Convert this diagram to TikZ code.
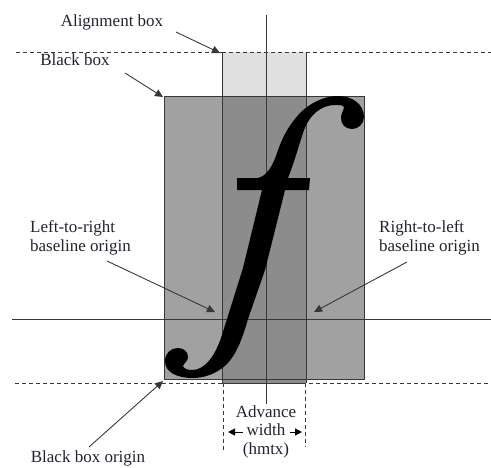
\documentclass[tikz,border=0pt]{standalone}
\usepackage{fontspec}
\setmainfont{Liberation Serif}
\usetikzlibrary{arrows.meta}
\definecolor{lightbox}{gray}{0.88}
\definecolor{darkbox}{gray}{0.63}
\definecolor{overlapbox}{gray}{0.55}
\definecolor{linegray}{gray}{0.22}
\definecolor{inkblue}{RGB}{35,35,45}
\tikzset{
  guide/.style={draw=linegray,line width=0.8pt},
  dashguide/.style={draw=linegray,line width=0.8pt,dash pattern=on 3.5pt off 3.5pt},
  pointer/.style={draw=linegray,line width=0.9pt,-{Triangle[length=8pt,width=7.5pt]}},
  short pointer/.style={draw=black,line width=1pt,-{Triangle[length=7pt,width=7pt]}},
  label/.style={inner sep=0pt,text=inkblue,font=\fontsize{17}{18.5}\selectfont,align=center},
  leftlabel/.style={label,align=left,anchor=west},
  rectbox/.style={inner sep=0pt,outer sep=0pt,anchor=north west}
}
\begin{document}
\begin{tikzpicture}[x=1pt,y=-1pt]
\useasboundingbox (0,0) rectangle (491,467);
% boxes
\node[rectbox,fill=lightbox,minimum width=84pt,minimum height=331pt] (align) at (222,52) {};
\node[rectbox,fill=darkbox,minimum width=200pt,minimum height=283pt] (black) at (164,96) {};
\fill[overlapbox] (222,96) rectangle (306,383);
\draw[guide] (black.north west) rectangle (black.south east);
\draw[guide] (222,52) -- (222,383) (306,52) -- (306,383);
% baseline, centre line
\coordinate (ctop) at (266,15);
\coordinate (cbot) at (266,404);
\draw[guide] (ctop) -- (cbot);
\draw[guide] (12,319) -- (491,319);
% glyph
\fill[black] (237,178) -- (310,178) -- (309,190) -- (237,190) -- cycle;
\fill[black]
  (258,178) .. controls (266,176) and (272,168) .. (277,153)
  .. controls (283,135) and (290,124) .. (300,113)
  .. controls (310,103) and (324,96) .. (338,96)
  .. controls (352,96) and (364,104) .. (364,117)
  .. controls (364,124) and (358,129) .. (352,129)
  .. controls (345,129) and (341,124) .. (341,118)
  .. controls (341,113) and (344,110) .. (344,107)
  .. controls (343,105) and (339,105) .. (335,105)
  .. controls (322,105) and (309,114) .. (303,133)
  .. controls (298,148) and (295,160) .. (288,178)
  -- (265,270) -- (248,319)
  .. controls (242,340) and (236,355) .. (226,365)
  .. controls (216,374) and (204,378) .. (193,378)
  .. controls (178,378) and (165,373) .. (165,361)
  .. controls (165,353) and (171,348) .. (178,348)
  .. controls (184,348) and (188,352) .. (188,357)
  .. controls (188,361) and (184,363) .. (183,366)
  .. controls (184,369) and (188,370) .. (192,370)
  .. controls (204,370) and (214,358) .. (221,338)
  -- (227,319) -- (243,268) -- (262,190) -- cycle;
% dashed lines
\draw[dashguide] (16,52) -- (222,52);
\draw[dashguide] (306,52) -- (491,52);
\draw[dashguide] (222,52) -- (306,52);
\draw[dashguide] (15,383) -- (491,383);
\draw[guide,line width=1pt] (222,383) -- (306,383);
\draw[dashguide] (223,383) -- (223,450);
\draw[dashguide] (305,383) -- (305,447);
% labels
\node[label] (lalign) at (112,22) {Alignment box};
\node[label] (lblack) at (75,60) {Black box};
\node[leftlabel] (lltr) at (30,238) {Left-to-right\\baseline origin};
\node[leftlabel] (lrtl) at (379,238) {Right-to-left\\baseline origin};
\node[label] (lorig) at (88,458) {Black box origin};
\node[label] (ladv) at (266,431.5) {Advance\\width\\(hmtx)};
% pointers
\coordinate (a1) at (176,32); \coordinate (a2) at (220,53);
\coordinate (b1) at (125,73); \coordinate (b2) at (163,97);
\coordinate (c1) at (107,261); \coordinate (c2) at (215,312);
\coordinate (d1) at (407,262); \coordinate (d2) at (314,312);
\coordinate (e1) at (89,447); \coordinate (e2) at (163,381);
\coordinate (f1) at (243,432); \coordinate (f2) at (228,432);
\coordinate (g1) at (290,432); \coordinate (g2) at (302,432);
\draw[pointer] (a1) -- (a2);
\draw[pointer] (b1) -- (b2);
\draw[pointer] (c1) -- (c2);
\draw[pointer] (d1) -- (d2);
\draw[pointer] (e1) -- (e2);
\draw[short pointer] (f1) -- (f2);
\draw[short pointer] (g1) -- (g2);
\end{tikzpicture}
\end{document}
